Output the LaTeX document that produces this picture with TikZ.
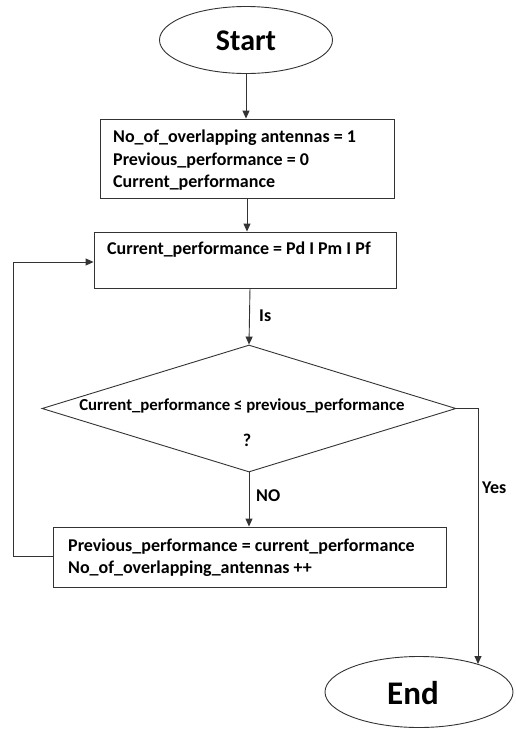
\documentclass[tikz,border=0pt]{standalone}
\usepackage{fontspec}
\setmainfont{Carlito}
\usetikzlibrary{shapes.geometric,arrows.meta}
\begin{document}
\begin{tikzpicture}[x=1pt,y=-1pt,
  line/.style={draw=black!80,line width=0.9pt},
  arr/.style={line,-{Triangle[length=8pt,width=7pt]}},
  boxshape/.style={line,rectangle,inner sep=0pt},
  term/.style={line,ellipse,inner sep=0pt},
  txt/.style={font=\bfseries\fontsize{18}{22.5}\selectfont,inner sep=0pt,align=left,anchor=west},
  big/.style={font=\bfseries\fontsize{30}{32}\selectfont,inner sep=0pt}]
\useasboundingbox (0,0) rectangle (515,729);
% shapes
\node[term,minimum width=173pt,minimum height=67pt] (start) at (246,40) {};
\node[big] (starttxt) at (246,41) {Start};
\node[boxshape,minimum width=294pt,minimum height=79pt] (b1) at (247,158.5) {};
\node[txt] (b1txt) at (113,160.5) {No\_of\_overlapping antennas = 1\\Previous\_performance = 0\\Current\_performance};
\node[boxshape,minimum width=302pt,minimum height=56pt] (b2) at (245,260) {};
\node[txt] (b2txt) at (107,250) {Current\_performance = Pd I Pm I Pf};
\node[line,diamond,minimum width=414pt,minimum height=127pt,inner sep=0pt] (d) at (249,408.5) {};
\node[txt,anchor=center,font=\bfseries\fontsize{16.8}{20}\selectfont] (dtxt) at (242,406) {Current\_performance ≤ previous\_performance};
\node[txt,anchor=center] (q) at (247,440) {?};
\node[boxshape,minimum width=393pt,minimum height=60pt] (b3) at (249.5,557) {};
\node[txt] (b3txt) at (68,557.5) {Previous\_performance = current\_performance\\No\_of\_overlapping\_antennas ++};
\node[term,minimum width=188pt,minimum height=71pt] (end) at (419,692) {};
\node[big,font=\bfseries\fontsize{33}{35}\selectfont] (endtxt) at (413,693) {End};
% connectors
\draw[arr] (start.south) -- (b1.north -| start.south);
\draw[arr] (b1.south) -- (b2.north -| b1.south);
\coordinate (b2out) at (250,288);
\draw[arr] (b2out) -- (d.north);
\node[txt] (is) at (259,316) {Is};
\draw[arr] (d.south) -- (b3.north -| d.south);
\node[txt] (no) at (256,496) {NO};
\coordinate (yescorner) at (478,408.5);
\coordinate (endtop) at (478,664);
\draw[arr] (d.east) -- (yescorner) -- (endtop);
\node[txt] (yes) at (482,488) {Yes};
\coordinate (loopbot) at (13,556);
\coordinate (looptop) at (13,262);
\draw[arr] (b3.west |- loopbot) -- (loopbot) -- (looptop) -- (b2.west |- looptop);
\end{tikzpicture}
\end{document}
